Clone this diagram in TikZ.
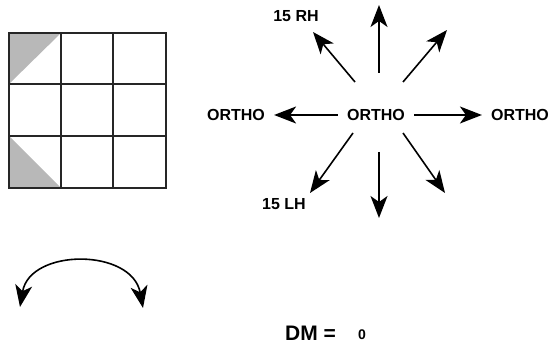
\documentclass[tikz,border=0pt]{standalone}
\usepackage{fontspec}
\setmainfont{Liberation Sans}
\usetikzlibrary{arrows.meta}

\begin{document}
\begin{tikzpicture}[
  x=1pt, y=-1pt,
  lbl/.style={font=\fontsize{16}{19}\selectfont\bfseries, inner sep=0pt},
  ortho/.style={lbl, inner xsep=9pt},
  cellline/.style={line width=1.4pt, black!85},
  shade/.style={fill=black!28},
  arr/.style={-{Stealth[length=22pt, width=17pt, inset=6pt]}, line width=1.6pt},
  swing/.style={{Stealth[length=22pt, width=17pt, inset=6pt]}-{Stealth[length=22pt, width=17pt, inset=6pt]}, line width=1.6pt}
]
  \useasboundingbox (0,0) rectangle (551,344);

  % grid with shaded corners
  \fill[shade] (9,33) -- (61,33) -- (9,84) -- cycle;
  \fill[shade] (9,136) -- (61,188) -- (9,188) -- cycle;
  \draw[cellline] (9,33) rectangle (166,188);
  \draw[cellline] (61,33) -- (61,188);
  \draw[cellline] (113,33) -- (113,188);
  \draw[cellline] (9,84) -- (166,84);
  \draw[cellline] (9,136) -- (166,136);

  \node[ortho] (hub) at (376,115) {ORTHO};
  \node[ortho] (west) at (236,115) {ORTHO};
  \node[ortho] (east) at (520,115) {ORTHO};
  \node[lbl] (rh) at (296,16) {15 RH};
  \node[lbl] (lh) at (284,204) {15 LH};

  \coordinate (up0) at (379,73);   \coordinate (up1) at (379,5);
  \coordinate (dn0) at (379,152);  \coordinate (dn1) at (379,218);
  \coordinate (ul0) at (355,82);   \coordinate (ul1) at (313,32);
  \coordinate (ur0) at (403,82);   \coordinate (ur1) at (447,30);
  \coordinate (dl0) at (353,133);  \coordinate (dl1) at (310,193);
  \coordinate (dr0) at (403,133);  \coordinate (dr1) at (445,193);

  \draw[arr] (hub) -- (west);
  \draw[arr] (hub) -- (east);
  \draw[arr] (up0) -- (up1);
  \draw[arr] (dn0) -- (dn1);
  \draw[arr] (ul0) -- (ul1);
  \draw[arr] (ur0) -- (ur1);
  \draw[arr] (dl0) -- (dl1);
  \draw[arr] (dr0) -- (dr1);

  % swing arrow
  \coordinate (swingL) at (20,307);
  \coordinate (swingR) at (143,308);
  \draw[swing] (swingL) .. controls (30,248) and (132,248) .. (swingR);

  \node[font=\fontsize{21}{24}\selectfont\bfseries, anchor=base west, inner sep=0pt] (dm) at (285,340) {DM =};
  \node[font=\fontsize{14}{16}\selectfont\bfseries, anchor=base, inner sep=0pt] (dmval) at (362,339) {0};
\end{tikzpicture}
\end{document}
